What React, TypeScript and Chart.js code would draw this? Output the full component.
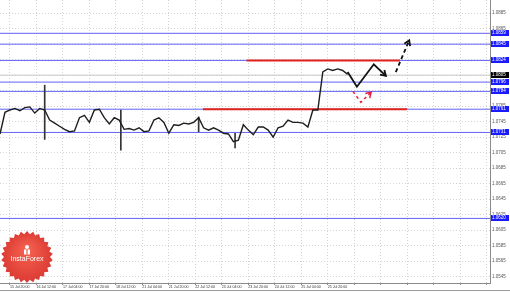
import React, { useEffect, useRef } from "react";
import { Chart, registerables } from "chart.js";

Chart.register(...registerables);

// ---- data ----
const HOUR_STEP = 3; // hours between consecutive closes
const closes = [
  1.0729, 1.0757, 1.076, 1.0762, 1.0759, 1.0763, 1.0764, 1.0756, 1.0762, 1.076,
  1.0747, 1.0743, 1.0739, 1.0735, 1.0732, 1.0733, 1.075, 1.0753, 1.0744, 1.076,
  1.0761, 1.075, 1.0742, 1.075, 1.0747, 1.0735, 1.0736, 1.0734, 1.0737, 1.0732,
  1.0733, 1.0747, 1.075, 1.0744, 1.073, 1.0741, 1.074, 1.0743, 1.0742, 1.0744,
  1.075, 1.0737, 1.0734, 1.0737, 1.0734, 1.073, 1.0729, 1.0719, 1.0721, 1.0741,
  1.0734, 1.0728, 1.0738, 1.0738, 1.0734, 1.0725, 1.0737, 1.0739, 1.0747, 1.0744,
  1.0744, 1.0743, 1.0738, 1.076, 1.076, 1.0809, 1.0813, 1.0811, 1.0813, 1.0811,
  1.0806,
];
const spikeHours = [27, 73, 120, 142];
const spikeLows = [1.0722, 1.0708, 1.0732, 1.0711];
const spikeHighs = [1.0792, 1.076, 1.0751, 1.073];

const tickHours = [6, 22, 38, 54, 70, 86, 102, 118, 134, 150, 166, 182, 198, 214, 230, 246, 262, 278, 294];
const tickLabels = [
  "15 Jul 20:00", "16 Jul 12:00", "17 Jul 04:00", "17 Jul 20:00", "18 Jul 12:00",
  "21 Jul 04:00", "21 Jul 20:00", "22 Jul 12:00", "23 Jul 04:00", "23 Jul 20:00",
  "24 Jul 12:00", "25 Jul 04:00", "25 Jul 20:00",
];
const priceTicks = [
  1.0545, 1.0565, 1.0585, 1.0605, 1.0625, 1.0645, 1.0665, 1.0685, 1.0705,
  1.0725, 1.0745, 1.0765, 1.0785, 1.0805, 1.0825, 1.0845, 1.0865, 1.0885,
];
const X_MIN = 0;
const X_MAX = 296;
const Y_MIN = 1.05366;
const Y_MAX = 1.0902;

const levelValues = [1.0859, 1.0845, 1.0824, 1.0796, 1.0784, 1.0761, 1.0731, 1.062];
const currentPrice = 1.0805;
const redLevels = [1.0824, 1.0761];
const redFrom = [149, 122.6];
const redTo = [241.5, 245.8];

const forecastHours = [210, 215.6, 225.8, 233.1];
const forecastPrices = [1.0809, 1.079, 1.0819, 1.0804];
const dashedHours = [239.1, 247.2];
const dashedPrices = [1.0809, 1.085];
const redArrowHours = [213.2, 218, 224.2];
const redArrowPrices = [1.0784, 1.077, 1.0783];

const FONT = '"Liberation Sans", "DejaVu Sans", sans-serif';

function pts(xs: number[], ys: number[]) {
  return xs.map((x, i) => ({ x, y: ys[i] }));
}

const overlayPlugin = {
  id: "overlay",
  afterDatasetsDraw(chart: any) {
    const { ctx } = chart;
    chart.data.datasets.forEach((ds: any, i: number) => {
      if (!ds.arrowHead) return;
      const els = chart.getDatasetMeta(i).data;
      const a = els[els.length - 2];
      const b = els[els.length - 1];
      const ang = Math.atan2(b.y - a.y, b.x - a.x);
      const L = 6;
      ctx.save();
      ctx.strokeStyle = ds.borderColor;
      ctx.lineWidth = ds.borderWidth;
      ctx.setLineDash([]);
      ctx.beginPath();
      ctx.moveTo(b.x - L * Math.cos(ang - 0.55), b.y - L * Math.sin(ang - 0.55));
      ctx.lineTo(b.x, b.y);
      ctx.lineTo(b.x - L * Math.cos(ang + 0.55), b.y - L * Math.sin(ang + 0.55));
      ctx.stroke();
      ctx.restore();
    });
  },
  afterDraw(chart: any) {
    const { ctx, chartArea } = chart;
    const y = chart.scales.y;
    ctx.save();
    ctx.font = `4.5px ${FONT}`;
    ctx.textBaseline = "middle";
    ctx.textAlign = "left";
    const drawLabel = (v: number, bg: string) => {
      const py = Math.round(y.getPixelForValue(v));
      ctx.fillStyle = bg;
      ctx.fillRect(chartArea.right + 1, py - 3, 18, 6);
      ctx.fillStyle = "#ffffff";
      ctx.fillText(v.toFixed(4), chartArea.right + 2, py);
    };
    levelValues.forEach((v) => drawLabel(v, "#1a1aff"));
    drawLabel(currentPrice, "#000000");

    // bottom frame line
    ctx.strokeStyle = "#9a9a9a";
    ctx.lineWidth = 1;
    ctx.beginPath();
    ctx.moveTo(0, 290.5);
    ctx.lineTo(chart.width, 290.5);
    ctx.stroke();

    // logo badge
    const cx = 27, cy = 257, ro = 26, ri = 23, n = 26;
    const g = ctx.createRadialGradient(cx, cy - 8, 2, cx, cy, ro);
    g.addColorStop(0, "#f4614f");
    g.addColorStop(1, "#dc3a33");
    ctx.fillStyle = g;
    ctx.beginPath();
    for (let k = 0; k < n * 2; k++) {
      const r = k % 2 === 0 ? ro : ri;
      const a = (Math.PI * k) / n - Math.PI / 2;
      const px = cx + r * Math.cos(a);
      const pyy = cy + r * Math.sin(a);
      if (k === 0) ctx.moveTo(px, pyy);
      else ctx.lineTo(px, pyy);
    }
    ctx.closePath();
    ctx.fill();
    ctx.fillStyle = "#ffffff";
    ctx.beginPath();
    ctx.arc(cx, cy - 10, 2, 0, Math.PI * 2);
    ctx.fill();
    ctx.fillRect(cx - 3, cy - 7.5, 6, 5);
    ctx.fillStyle = "#e4453b";
    ctx.fillRect(cx - 0.5, cy - 7.5, 1, 5);
    ctx.fillStyle = "#ffffff";
    ctx.font = `7px ${FONT}`;
    ctx.textAlign = "center";
    ctx.textBaseline = "middle";
    ctx.fillText("InstaForex", cx, cy + 2);
    ctx.restore();
  },
};

export default function App() {
  const ref = useRef<HTMLCanvasElement>(null);
  useEffect(() => {
    document.body.style.margin = "0";
    const canvas = ref.current;
    if (!canvas) return;
    const flat = (v: number, a: number, b: number) => [
      { x: a, y: v },
      { x: b, y: v },
    ];
    const datasets: any[] = [];
    levelValues.forEach((v) =>
      datasets.push({
        type: "line",
        data: flat(v, X_MIN, X_MAX),
        borderColor: "rgba(70,70,245,0.85)",
        borderWidth: 1,
        pointRadius: 0,
        order: 10,
      })
    );
    datasets.push({
      type: "line",
      data: flat(currentPrice, X_MIN, X_MAX),
      borderColor: "#c8c8c8",
      borderWidth: 1,
      pointRadius: 0,
      order: 11,
    });
    redLevels.forEach((v, i) =>
      datasets.push({
        type: "line",
        data: flat(v, redFrom[i], redTo[i]),
        borderColor: "#e0231e",
        borderWidth: 2,
        pointRadius: 0,
        order: 8,
      })
    );
    datasets.push({
      type: "bar",
      data: spikeHours.map((h, i) => ({ x: h, y: [spikeLows[i], spikeHighs[i]] })),
      backgroundColor: "#333333",
      barThickness: 1,
      grouped: false,
      order: 3,
    });
    datasets.push({
      type: "line",
      data: closes.map((c, i) => ({ x: i * HOUR_STEP, y: c })),
      borderColor: "#1e1e1e",
      borderWidth: 1.4,
      pointRadius: 0,
      tension: 0,
      order: 2,
    });
    datasets.push({
      type: "line",
      data: pts(forecastHours, forecastPrices),
      borderColor: "#111111",
      borderWidth: 1.8,
      pointRadius: 0,
      arrowHead: true,
      order: 1,
    });
    datasets.push({
      type: "line",
      data: pts(dashedHours, dashedPrices),
      borderColor: "#111111",
      borderWidth: 1.8,
      borderDash: [4, 3],
      pointRadius: 0,
      arrowHead: true,
      order: 1,
    });
    datasets.push({
      type: "line",
      data: pts(redArrowHours, redArrowPrices),
      borderColor: "#e8203a",
      borderWidth: 1.5,
      borderDash: [3, 3],
      pointRadius: 0,
      arrowHead: true,
      order: 1,
    });

    const chart = new Chart(canvas, {
      type: "line",
      data: { datasets },
      plugins: [overlayPlugin],
      options: {
        animation: false,
        responsive: false,
        maintainAspectRatio: false,
        layout: { padding: 0 },
        plugins: { legend: { display: false }, tooltip: { enabled: false } },
        scales: {
          x: {
            type: "linear",
            offset: false,
            min: X_MIN,
            max: X_MAX,
            afterBuildTicks: (s: any) => {
              s.ticks = tickHours.map((v) => ({ value: v }));
            },
            afterFit: (s: any) => {
              s.height = 9;
              s.paddingLeft = 0;
              s.paddingRight = 0;
            },
            grid: { offset: false, color: "#d4d4d4", drawTicks: true, tickLength: 2, tickColor: "#888" },
            border: { color: "#8a8a8a", dash: [1, 2], width: 1 },
            ticks: {
              autoSkip: false,
              maxRotation: 0,
              minRotation: 0,
              align: "start",
              padding: 0,
              color: "#333",
              font: { size: 3.6, family: FONT },
              callback: (_v: any, i: number) => tickLabels[i] ?? "",
            },
          },
          y: {
            type: "linear",
            position: "right",
            min: Y_MIN,
            max: Y_MAX,
            afterBuildTicks: (s: any) => {
              s.ticks = priceTicks.map((v) => ({ value: v }));
            },
            afterFit: (s: any) => {
              s.width = 20;
              s.paddingTop = 0;
              s.paddingBottom = 0;
            },
            grid: { color: "#d4d4d4", drawTicks: false },
            border: { color: "#8a8a8a", dash: [1, 2], width: 1 },
            ticks: {
              padding: 2,
              color: "#555",
              font: { size: 4.5, family: FONT },
              callback: (v: any) => Number(v).toFixed(4),
            },
          },
        },
      } as any,
    });
    return () => chart.destroy();
  }, []);

  return (
    <div style={{ width: 510, height: 292, position: "relative", background: "#fff" }}>
      <canvas ref={ref} width={510} height={292} style={{ display: "block" }} />
    </div>
  );
}
